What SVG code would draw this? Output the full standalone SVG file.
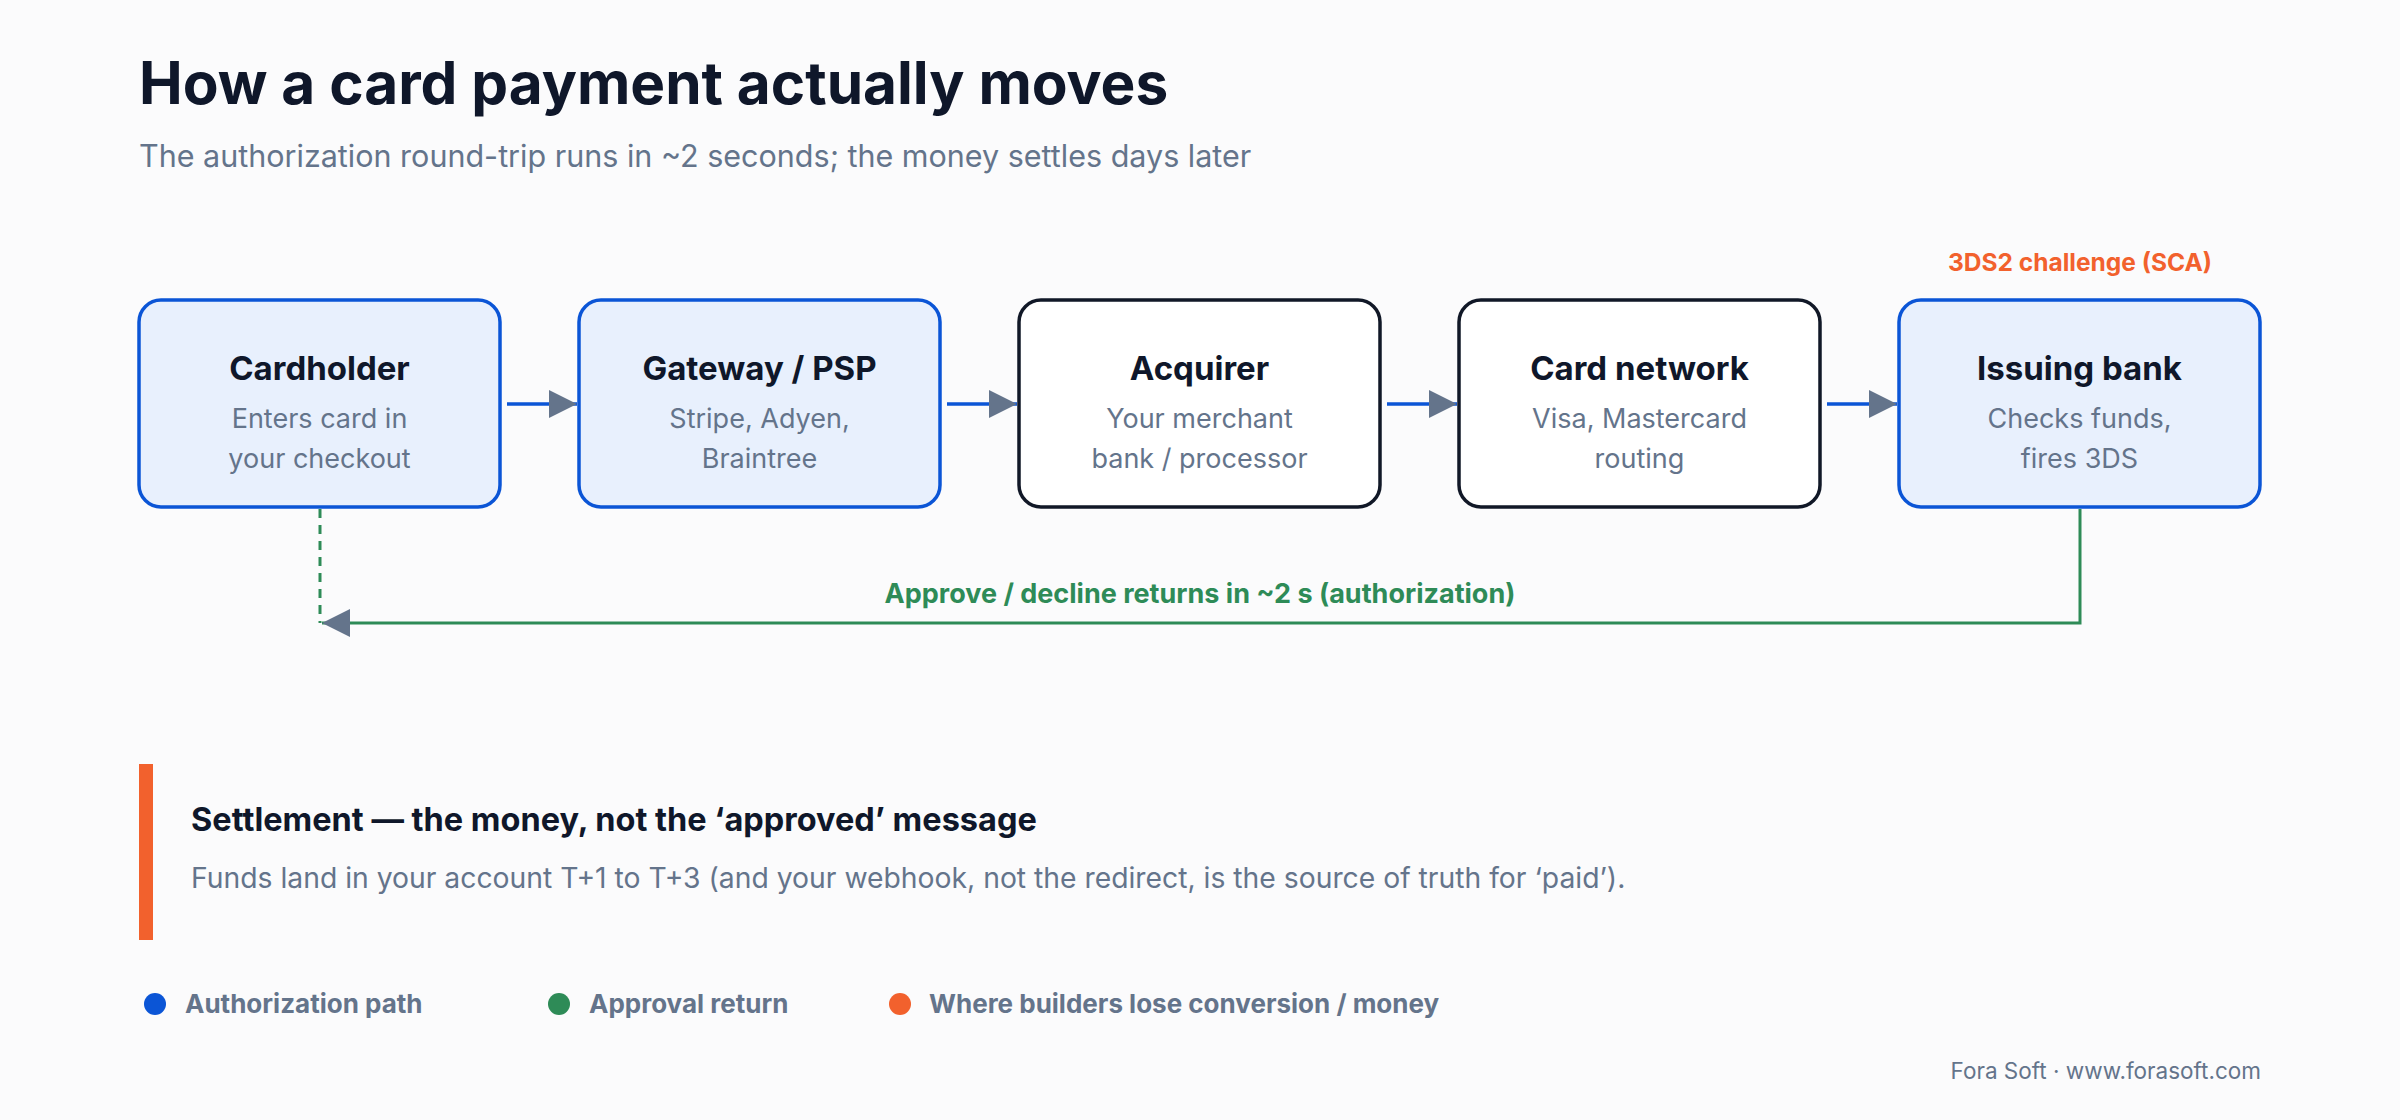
<svg xmlns="http://www.w3.org/2000/svg" width="2400" height="1120" viewBox="0 0 2400 1120">
<style>
text{font-family:Inter,"Noto Sans","Liberation Sans",sans-serif}
.box{stroke-width:3.5}
.hi{fill:#E8F0FD;stroke:#0B55D6}
.plain{fill:#FFFFFF;stroke:#111827}
.t{font-size:33px;font-weight:700;fill:#0F172A;text-anchor:middle}
.s{font-size:27px;fill:#64748B;text-anchor:middle}
.flow{stroke:#0B55D6;stroke-width:3.5;fill:none}
.leg{font-size:26px;font-weight:700;fill:#64748B}
</style>
<defs>
<marker id="ahb" viewBox="0 0 10 10" refX="10" refY="5" markerWidth="28" markerHeight="28" markerUnits="userSpaceOnUse" orient="auto">
<path d="M0,0L10,5L0,10z" fill="#64748B"/>
</marker>
</defs>
<rect width="2400" height="1120" fill="#FBFBFC"/>
<text x="139" y="104" font-size="58.5" font-weight="700" fill="#0F172A">How a card payment actually moves</text>
<text x="139" y="167" font-size="30.5" fill="#64748B">The authorization round-trip runs in ~2 seconds; the money settles days later</text>

<g id="cardholder"><rect class="box hi" x="139" y="300" width="361" height="207" rx="22"/><text class="t" x="319.5" y="380">Cardholder</text><text class="s" x="319.5" y="428">Enters card in</text><text class="s" x="319.5" y="468">your checkout</text></g>
<g id="gateway"><rect class="box hi" x="579" y="300" width="361" height="207" rx="22"/><text class="t" x="759.5" y="380">Gateway / PSP</text><text class="s" x="759.5" y="428">Stripe, Adyen,</text><text class="s" x="759.5" y="468">Braintree</text></g>
<g id="acquirer"><rect class="box plain" x="1019" y="300" width="361" height="207" rx="22"/><text class="t" x="1199.5" y="380">Acquirer</text><text class="s" x="1199.5" y="428">Your merchant</text><text class="s" x="1199.5" y="468">bank / processor</text></g>
<g id="network"><rect class="box plain" x="1459" y="300" width="361" height="207" rx="22"/><text class="t" x="1639.5" y="380">Card network</text><text class="s" x="1639.5" y="428">Visa, Mastercard</text><text class="s" x="1639.5" y="468">routing</text></g>
<g id="issuer"><rect class="box hi" x="1899" y="300" width="361" height="207" rx="22"/><text class="t" x="2079.5" y="380">Issuing bank</text><text class="s" x="2079.5" y="428">Checks funds,</text><text class="s" x="2079.5" y="468">fires 3DS</text></g>
<text x="2080" y="271" font-size="24.5" font-weight="700" fill="#F2612D" text-anchor="middle">3DS2 challenge (SCA)</text>

<g id="connectors">
<line class="flow" x1="507" y1="404" x2="577" y2="404" marker-end="url(#ahb)"/>
<line class="flow" x1="947" y1="404" x2="1017" y2="404" marker-end="url(#ahb)"/>
<line class="flow" x1="1387" y1="404" x2="1457" y2="404" marker-end="url(#ahb)"/>
<line class="flow" x1="1827" y1="404" x2="1897" y2="404" marker-end="url(#ahb)"/>
<line x1="320" y1="509" x2="320" y2="623" stroke="#2E8B57" stroke-width="3" stroke-dasharray="9,7"/>
<polyline points="2080,509 2080,623 322,623" fill="none" stroke="#2E8B57" stroke-width="3" marker-end="url(#ahb)"/>
<text x="1200" y="603" font-size="27" font-weight="700" fill="#2E8B57" text-anchor="middle">Approve / decline returns in ~2 s (authorization)</text>
</g>

<rect x="139" y="764" width="14" height="176" fill="#F2612D"/>
<text x="191" y="831" font-size="32.5" font-weight="700" fill="#0F172A">Settlement — the money, not the ‘approved’ message</text>
<text x="191" y="888" font-size="28.3" fill="#64748B">Funds land in your account T+1 to T+3 (and your webhook, not the redirect, is the source of truth for ‘paid’).</text>

<circle cx="155" cy="1004" r="11" fill="#0B55D6"/><text class="leg" x="185" y="1013">Authorization path</text>
<circle cx="559" cy="1004" r="11" fill="#2E8B57"/><text class="leg" x="589" y="1013">Approval return</text>
<circle cx="900" cy="1004" r="11" fill="#F2612D"/><text class="leg" x="929" y="1013">Where builders lose conversion / money</text>
<text x="2261" y="1079" font-size="22.5" fill="#64748B" text-anchor="end">Fora Soft · www.forasoft.com</text>
</svg>
